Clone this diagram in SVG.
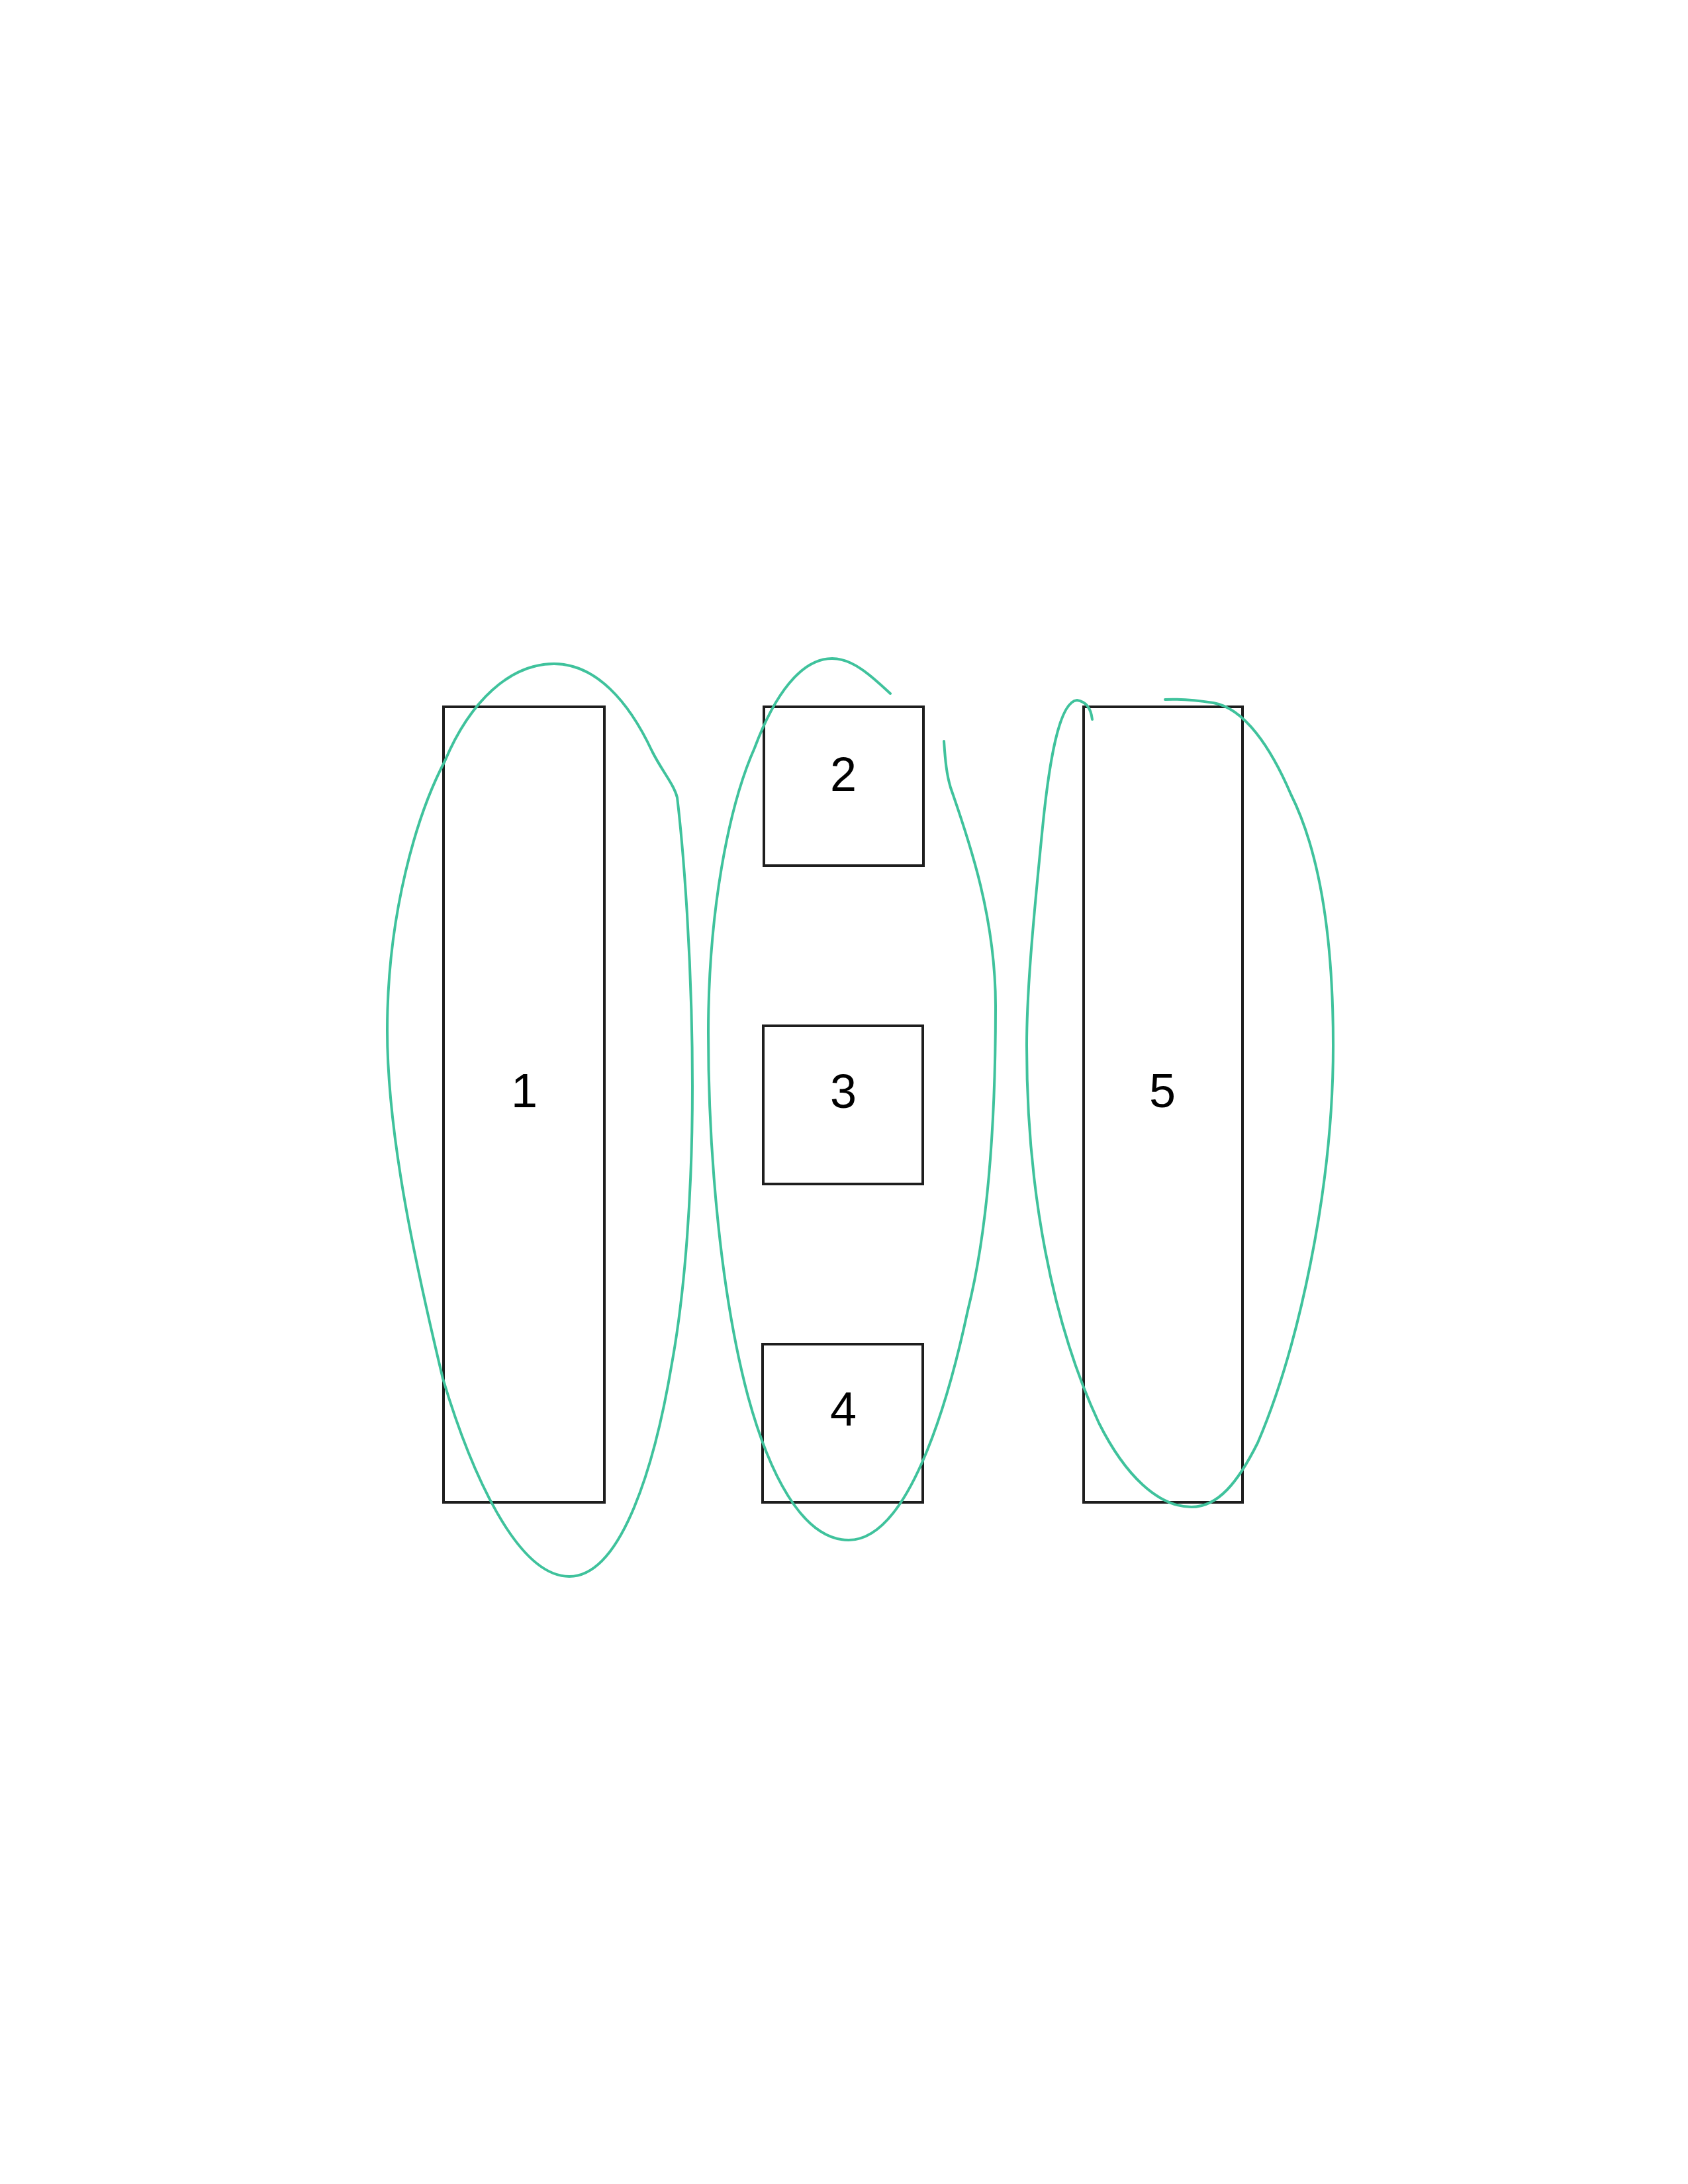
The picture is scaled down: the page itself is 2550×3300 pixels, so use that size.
<svg xmlns="http://www.w3.org/2000/svg" width="2550" height="3300" viewBox="0 0 2550 3300">
<style>
.box{fill:none;stroke:#1e1e1e;stroke-width:4}
.lbl{font-family:"Liberation Sans",Arial,sans-serif;font-size:72px;fill:#000;text-anchor:middle}
.loop{fill:none;stroke:#3fc29c;stroke-width:4;stroke-linecap:round;stroke-linejoin:round}
</style>
<rect width="2550" height="3300" fill="#ffffff"/>
<g id="node1"><rect class="box" x="670" y="1068" width="243" height="1202"/><text class="lbl" x="792" y="1673">1</text></g>
<g id="node2"><rect class="box" x="1154" y="1068" width="241" height="240"/><text class="lbl" x="1274" y="1195">2</text></g>
<g id="node3"><rect class="box" x="1153" y="1550" width="241" height="239"/><text class="lbl" x="1274" y="1674">3</text></g>
<g id="node4"><rect class="box" x="1152" y="2031" width="242" height="239"/><text class="lbl" x="1274" y="2154">4</text></g>
<g id="node5"><rect class="box" x="1637" y="1068" width="240" height="1202"/><text class="lbl" x="1756" y="1673">5</text></g>
<g id="connectors">
<path class="loop" d="M 837 1003 C 900 1003, 950 1060, 985 1135 C 1000 1165, 1018 1185, 1023 1205 C 1032 1280, 1046 1450, 1046 1641 C 1046 1800, 1035 1950, 1015 2060 C 990 2210, 940 2382, 860 2382 C 780 2382, 710 2220, 669 2083 C 630 1920, 585 1720, 585 1557 C 585 1380, 630 1230, 672 1150 C 710 1060, 770 1003, 837 1003 Z"/>
<path class="loop" d="M 1426 1120 C 1428 1150, 1430 1170, 1436 1190 C 1460 1260, 1504 1380, 1504 1520 C 1504 1700, 1492 1860, 1462 1980 C 1430 2130, 1370 2327, 1282 2327 C 1210 2327, 1160 2220, 1130 2110 C 1090 1960, 1070 1750, 1070 1560 C 1070 1380, 1100 1220, 1140 1130 C 1170 1050, 1210 995, 1257 995 C 1290 995, 1320 1025, 1345 1048"/>
<path class="loop" d="M 1650 1087 C 1648 1070, 1640 1060, 1627 1058 C 1600 1060, 1585 1150, 1575 1250 C 1560 1400, 1551 1500, 1551 1580 C 1551 1800, 1590 2000, 1660 2150 C 1700 2230, 1750 2277, 1800 2277 C 1840 2277, 1870 2240, 1900 2180 C 1960 2040, 2014 1800, 2014 1580 C 2014 1400, 1990 1280, 1950 1200 C 1920 1130, 1880 1070, 1833 1062 C 1800 1057, 1780 1056, 1760 1057"/>
</g>
</svg>
